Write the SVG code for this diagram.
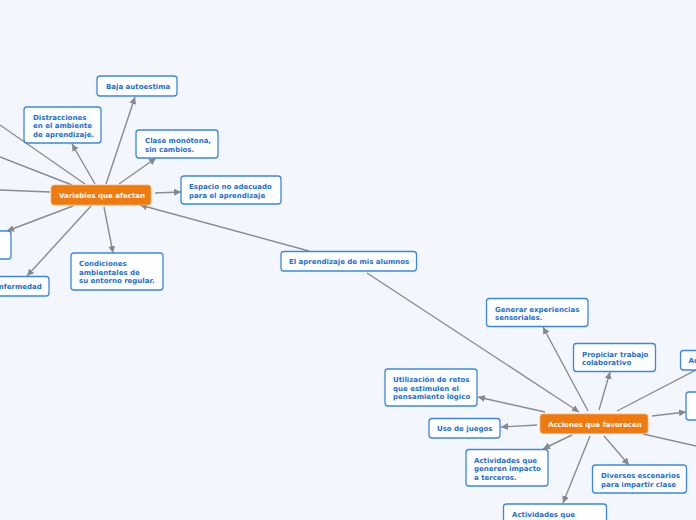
<svg xmlns="http://www.w3.org/2000/svg" width="696" height="520" viewBox="0 0 696 520">
<defs>
<marker id="ah" markerUnits="userSpaceOnUse" markerWidth="8" markerHeight="8" refX="7" refY="3.5" orient="auto">
<path d="M0,0 L7,3.5 L0,7 z" fill="#85888f"/>
</marker>
<style>
.c line{stroke:#8a8c93;stroke-width:1.4;fill:none}
.c .a{marker-end:url(#ah)}
.n rect{fill:#ffffff;stroke:#3a88e0;stroke-width:1.3}
.n text{font-family:"DejaVu Sans",Verdana,sans-serif;font-weight:bold;font-size:7px;fill:#1b70d4}
.o rect{fill:#ef7a0f;stroke:#f6b27a;stroke-width:0.8}
.o text{font-family:"DejaVu Sans",Verdana,sans-serif;font-weight:bold;font-size:7px;fill:#ffffff}
</style>
</defs>
<rect width="696" height="520" fill="#f3f6fd"/>
<g id="connectors" class="c">
<line class="a" x1="106" y1="184" x2="135" y2="97"/>
<line class="a" x1="95" y1="184" x2="72" y2="144"/>
<line class="a" x1="119" y1="184" x2="156" y2="158"/>
<line class="a" x1="155" y1="193" x2="181" y2="192"/>
<line class="a" x1="104" y1="207" x2="113" y2="253"/>
<line class="a" x1="91" y1="206" x2="27" y2="276"/>
<line class="a" x1="73" y1="206" x2="7" y2="231"/>
<line x1="85" y1="184" x2="0" y2="125"/>
<line x1="72" y1="185" x2="0" y2="157"/>
<line x1="50" y1="192" x2="0" y2="190"/>
<line class="a" x1="309" y1="251" x2="140" y2="205"/>
<line class="a" x1="367" y1="273" x2="579" y2="412"/>
<line class="a" x1="588" y1="411" x2="543" y2="327"/>
<line class="a" x1="599" y1="410" x2="610" y2="372"/>
<line x1="617" y1="411" x2="700" y2="368"/>
<line class="a" x1="652" y1="416" x2="686" y2="412"/>
<line x1="643" y1="434" x2="700" y2="447"/>
<line class="a" x1="604" y1="436" x2="629" y2="465"/>
<line class="a" x1="590" y1="436" x2="563" y2="503"/>
<line class="a" x1="572" y1="435" x2="543" y2="449"/>
<line class="a" x1="537" y1="425" x2="501" y2="427"/>
<line class="a" x1="545" y1="412" x2="478" y2="397"/>
</g>
<g id="n-baja" class="n"><rect x="97" y="76" width="80" height="20" rx="3"/><text x="106" y="89">Baja autoestima</text></g>
<g id="n-distracciones" class="n"><rect x="24" y="107" width="77" height="36" rx="3"/><text x="33" y="119.5">Distracciones</text><text x="33" y="128">en el ambiente</text><text x="33" y="136.5">de aprendizaje.</text></g>
<g id="n-clase" class="n"><rect x="136" y="130" width="82" height="28" rx="3"/><text x="145" y="143">Clase monótona,</text><text x="145" y="151.5">sin cambios.</text></g>
<g id="n-espacio" class="n"><rect x="181" y="176" width="100" height="28" rx="3"/><text x="189" y="189">Espacio no adecuado</text><text x="189" y="197.5">para el aprendizaje</text></g>
<g id="n-variables" class="o"><rect x="51" y="185" width="100" height="20" rx="3"/><text x="59" y="198">Variables que afectan</text></g>
<g id="n-condiciones" class="n"><rect x="71" y="253" width="92" height="37" rx="3"/><text x="79" y="266">Condiciones</text><text x="79" y="274.5">ambientales de</text><text x="79" y="283">su entorno regular.</text></g>
<g id="n-enfermedad" class="n"><rect x="-20" y="276.5" width="69" height="19.5" rx="3"/><text x="-6" y="289">Enfermedad</text></g>
<g id="n-left" class="n"><rect x="-40" y="231" width="51" height="28" rx="3"/></g>
<g id="n-aprendizaje" class="n"><rect x="281" y="251.5" width="135.5" height="19.5" rx="3"/><text x="289" y="264">El aprendizaje de mis alumnos</text></g>
<g id="n-generar" class="n"><rect x="486.5" y="298.5" width="101.5" height="28" rx="3"/><text x="495" y="311.5">Generar experiencias</text><text x="495" y="320">sensoriales.</text></g>
<g id="n-propiciar" class="n"><rect x="573.5" y="343.5" width="82" height="28" rx="3"/><text x="582" y="356.5">Propiciar trabajo</text><text x="582" y="365">colaborativo</text></g>
<g id="n-au" class="n"><rect x="680.5" y="350.5" width="40" height="19.5" rx="3"/><text x="688.5" y="363">Au</text></g>
<g id="n-utilizacion" class="n"><rect x="385" y="369" width="92" height="37" rx="3"/><text x="393" y="382">Utilización de retos</text><text x="393" y="390.5">que estimulen el</text><text x="393" y="399">pensamiento lógico</text></g>
<g id="n-acciones" class="o"><rect x="540" y="414" width="108" height="19.5" rx="3"/><text x="548" y="426.5">Acciones que favorecen</text></g>
<g id="n-c" class="n"><rect x="686" y="392" width="40" height="28" rx="3"/></g>
<g id="n-juegos" class="n"><rect x="429" y="418.5" width="71" height="19.5" rx="3"/><text x="437" y="431">Uso de juegos</text></g>
<g id="n-impacto" class="n"><rect x="466" y="449.5" width="82" height="36.5" rx="3"/><text x="474" y="462.5">Actividades que</text><text x="474" y="471">generen impacto</text><text x="474" y="479.5">a terceros.</text></g>
<g id="n-diversos" class="n"><rect x="592.5" y="465" width="94" height="28" rx="3"/><text x="601" y="478">Diversos escenarios</text><text x="601" y="486.5">para impartir clase</text></g>
<g id="n-actividades" class="n"><rect x="503.5" y="504" width="103" height="30" rx="3"/><text x="512" y="516.5">Actividades que</text></g>
</svg>
